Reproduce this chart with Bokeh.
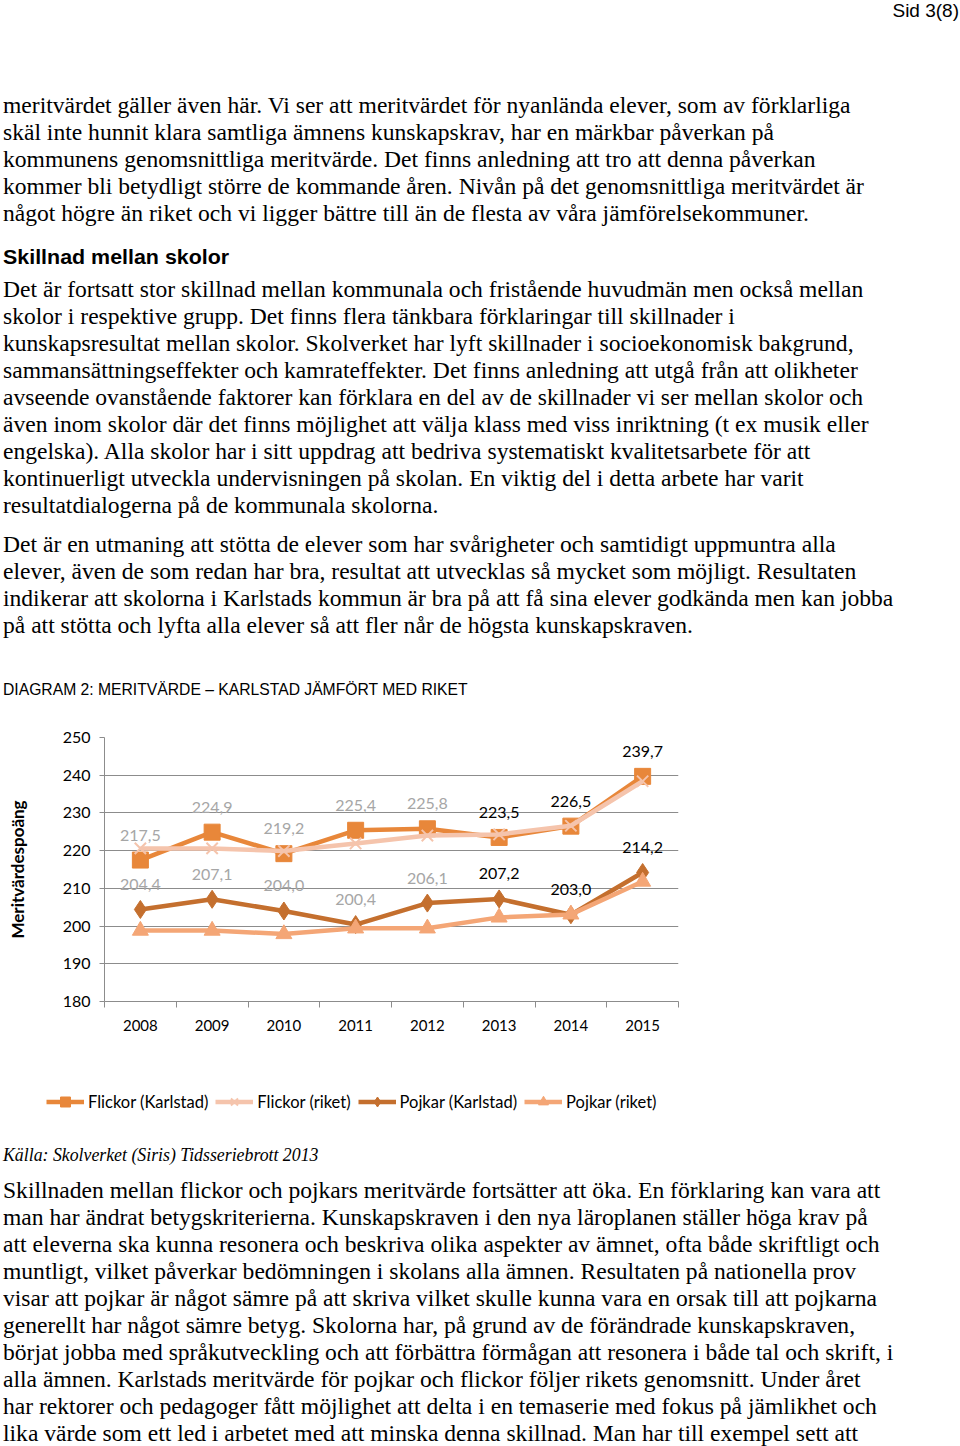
from bokeh.plotting import figure
from bokeh.models import (Range1d, FixedTicker, Legend, LegendItem, Div)
from bokeh.layouts import column
from bokeh.embed import file_html
from bokeh.resources import INLINE
from bokeh.core.properties import value

# ---------------- data ----------------
years = [2008, 2009, 2010, 2011, 2012, 2013, 2014, 2015]
flickor_karlstad = [217.5, 224.9, 219.2, 225.4, 225.8, 223.5, 226.5, 239.7]
flickor_riket = [220.6, 220.6, 219.9, 221.9, 224.0, 224.3, 226.6, 238.4]
pojkar_karlstad = [204.4, 207.1, 204.0, 200.4, 206.1, 207.2, 203.0, 214.2]
pojkar_riket = [198.8, 198.8, 197.9, 199.4, 199.4, 202.3, 203.1, 211.8]
y_ticks = [180, 190, 200, 210, 220, 230, 240, 250]
series_names = ["Flickor (Karlstad)", "Flickor (riket)", "Pojkar (Karlstad)", "Pojkar (riket)"]

# ---------------- page text ----------------
p1 = [
    "meritvärdet gäller även här. Vi ser att meritvärdet för nyanlända elever, som av förklarliga",
    "skäl inte hunnit klara samtliga ämnens kunskapskrav, har en märkbar påverkan på",
    "kommunens genomsnittliga meritvärde. Det finns anledning att tro att denna påverkan",
    "kommer bli betydligt större de kommande åren. Nivån på det genomsnittliga meritvärdet är",
    "något högre än riket och vi ligger bättre till än de flesta av våra jämförelsekommuner.",
]
heading = "Skillnad mellan skolor"
p2 = [
    "Det är fortsatt stor skillnad mellan kommunala och fristående huvudmän men också mellan",
    "skolor i respektive grupp. Det finns flera tänkbara förklaringar till skillnader i",
    "kunskapsresultat mellan skolor. Skolverket har lyft skillnader i socioekonomisk bakgrund,",
    "sammansättningseffekter och kamrateffekter. Det finns anledning att utgå från att olikheter",
    "avseende ovanstående faktorer kan förklara en del av de skillnader vi ser mellan skolor och",
    "även inom skolor där det finns möjlighet att välja klass med viss inriktning (t ex musik eller",
    "engelska). Alla skolor har i sitt uppdrag att bedriva systematiskt kvalitetsarbete för att",
    "kontinuerligt utveckla undervisningen på skolan. En viktig del i detta arbete har varit",
    "resultatdialogerna på de kommunala skolorna.",
]
p3 = [
    "Det är en utmaning att stötta de elever som har svårigheter och samtidigt uppmuntra alla",
    "elever, även de som redan har bra, resultat att utvecklas så mycket som möjligt. Resultaten",
    "indikerar att skolorna i Karlstads kommun är bra på att få sina elever godkända men kan jobba",
    "på att stötta och lyfta alla elever så att fler når de högsta kunskapskraven.",
]
diagram_title = "DIAGRAM 2: MERITVÄRDE – KARLSTAD JÄMFÖRT MED RIKET"
source = "Källa: Skolverket (Siris) Tidsseriebrott 2013"
p4 = [
    "Skillnaden mellan flickor och pojkars meritvärde fortsätter att öka. En förklaring kan vara att",
    "man har ändrat betygskriterierna. Kunskapskraven i den nya läroplanen ställer höga krav på",
    "att eleverna ska kunna resonera och beskriva olika aspekter av ämnet, ofta både skriftligt och",
    "muntligt, vilket påverkar bedömningen i skolans alla ämnen. Resultaten på nationella prov",
    "visar att pojkar är något sämre på att skriva vilket skulle kunna vara en orsak till att pojkarna",
    "generellt har något sämre betyg. Skolorna har, på grund av de förändrade kunskapskraven,",
    "börjat jobba med språkutveckling och att förbättra förmågan att resonera i både tal och skrift, i",
    "alla ämnen. Karlstads meritvärde för pojkar och flickor följer rikets genomsnitt. Under året",
    "har rektorer och pedagoger fått möjlighet att delta i en temaserie med fokus på jämlikhet och",
    "lika värde som ett led i arbetet med att minska denna skillnad. Man har till exempel sett att",
]

# ---------------- helpers for text blocks ----------------
SERIF = "'Liberation Serif', 'Times New Roman', serif"
SANS = "'Liberation Sans', Arial, sans-serif"


def line_html(txt, baseline, div_top, size, family, asc, weight="normal",
              style="normal", left=-2, sx=1.0, right=None):
    lh = round(size * 1.2)
    top = baseline - div_top - asc * size - (lh - 1.12 * size) / 2
    if right is None:
        pos = f"left:{left}px;"
        origin = "0 0"
    else:
        pos = f"right:{right}px;"
        origin = "100% 0"
    return (f'<div style="position:absolute;{pos}top:{top:.1f}px;'
            f'font-family:{family};font-size:{size}px;line-height:{lh}px;'
            f'font-weight:{weight};font-style:{style};white-space:nowrap;color:#000;'
            f'transform:scaleX({sx});transform-origin:{origin};">{txt}</div>')


BODY = 23
BODY_SX = 1.025

TOP_Y = 8
DT = 5  # vertical correction for top block
top_parts = []
top_parts.append(line_html("Sid 3(8)", 20, TOP_Y, 19, SANS, 0.905, right=-10))
for i, t in enumerate(p1):
    top_parts.append(line_html(t, 112 + DT + 27 * i, TOP_Y, BODY, SERIF, 0.891, sx=BODY_SX))
top_parts.append(line_html(heading, 262 + DT, TOP_Y, 21, SANS, 0.905, weight="bold", sx=1.02))
for i, t in enumerate(p2):
    top_parts.append(line_html(t, 296 + DT + 27 * i, TOP_Y, BODY, SERIF, 0.891, sx=BODY_SX))
for i, t in enumerate(p3):
    top_parts.append(line_html(t, 551 + DT + 27 * i, TOP_Y, BODY, SERIF, 0.891, sx=BODY_SX))
top_parts.append(line_html(diagram_title, 693 + DT, TOP_Y, 15.7, SANS, 0.905))

TOP_H = 697
top_div = Div(text=f'<div style="position:relative;width:944px;height:{TOP_H}px;">'
              + "".join(top_parts) + "</div>", width=944, height=TOP_H)

# ---------------- chart ----------------
FONT = "Lato"
GRID = "#8c8c8c"
c_fk = "#E8873A"
c_fr = "#F5C4AC"
c_pk = "#C46F2E"
c_pr = "#F4A676"

CH_W, CH_H = 708, 342
p = figure(width=CH_W, height=CH_H, x_range=Range1d(2007.5, 2015.5),
           y_range=Range1d(180, 250), output_backend="svg", toolbar_location=None,
           min_border_left=104, min_border_right=30, min_border_top=30,
           min_border_bottom=48)
p.outline_line_color = None
p.background_fill_color = "white"
p.border_fill_color = "white"

bounds = [years[0] - 0.5] + [y + 0.5 for y in years]
p.xaxis.ticker = FixedTicker(ticks=years, minor_ticks=bounds)
p.xaxis.major_tick_out = 0
p.xaxis.major_tick_in = 0
p.xaxis.minor_tick_out = 6
p.xaxis.minor_tick_in = 0
p.xaxis.minor_tick_line_color = GRID
p.xaxis.axis_line_color = GRID
p.xaxis.major_label_standoff = 12
p.xaxis.major_label_text_font = FONT
p.xaxis.major_label_text_font_size = "15px"
p.xaxis.major_label_text_color = "#000000"
p.xgrid.visible = False

p.yaxis.ticker = FixedTicker(ticks=y_ticks)
p.yaxis.major_tick_out = 5
p.yaxis.major_tick_in = 0
p.yaxis.minor_tick_out = 0
p.yaxis.minor_tick_in = 0
p.yaxis.major_tick_line_color = GRID
p.yaxis.axis_line_color = GRID
p.yaxis.major_label_standoff = 9
p.yaxis.major_label_text_font = FONT
p.yaxis.major_label_text_font_size = "16px"
p.yaxis.major_label_text_color = "#000000"
p.yaxis.axis_label = "Meritvärdespoäng"
p.yaxis.axis_label_text_font = FONT
p.yaxis.axis_label_text_font_size = "17px"
p.yaxis.axis_label_text_font_style = "bold"
p.yaxis.axis_label_text_color = "#000000"
p.yaxis.axis_label_standoff = 32
p.ygrid.grid_line_color = GRID
p.ygrid.grid_line_width = 1

LW = 4.5
MK = dict(square=16, x=16, diamond=18, triangle=16)
styles = [
    (flickor_karlstad, c_fk, "square"),
    (flickor_riket, c_fr, "x"),
    (pojkar_karlstad, c_pk, "diamond"),
    (pojkar_riket, c_pr, "triangle"),
]


def draw_series(fig, vals, col, mk):
    lr = fig.line(years, vals, line_color=col, line_width=LW)
    if mk == "x":
        sr = fig.scatter(years, vals, marker=mk, size=MK[mk], line_color=col, line_width=2)
    else:
        sr = fig.scatter(years, vals, marker=mk, size=MK[mk], fill_color=col, line_color=col)
    return lr, sr


for vals, col, mk in styles:
    draw_series(p, vals, col, mk)

label_colors = ["#000000" if y >= 2013 else "#a6a6a6" for y in years]
for vals in (flickor_karlstad, pojkar_karlstad):
    labels = [f"{v:.1f}".replace(".", ",") for v in vals]
    p.text(x=years, y=vals, text=labels, y_offset=-25, text_align="center",
           text_baseline="middle", text_font=value(FONT), text_font_size="16px",
           text_color=label_colors)

# ---------------- legend (own strip below the chart) ----------------
# The series are drawn again here outside the strip's visible ranges, only so
# that the legend has real renderers to draw its glyphs from.
LG_W, LG_H = 708, 75
lg = figure(width=LG_W, height=LG_H, x_range=Range1d(0, 1), y_range=Range1d(0, 1),
            output_backend="svg", toolbar_location=None,
            min_border_left=0, min_border_right=0, min_border_top=0, min_border_bottom=0)
if "frame_align" in lg.properties():
    lg.frame_align = False
    p.frame_align = False
lg.axis.visible = False
lg.grid.visible = False
lg.outline_line_color = None
items = []
for name, (vals, col, mk) in zip(series_names, styles):
    lr, sr = draw_series(lg, vals, col, mk)
    items.append(LegendItem(label=name, renderers=[lr, sr]))
legend = Legend(items=items, orientation="horizontal", location=(46, 10))
legend.padding = 0
legend.margin = 0
legend.spacing = 7
legend.glyph_width = 38
legend.glyph_height = 25
legend.label_standoff = 4
legend.label_text_font = FONT
legend.label_text_font_size = "16.5px"
legend.label_text_color = "#000000"
legend.border_line_color = None
legend.background_fill_alpha = 0
lg.add_layout(legend, "center")

# ---------------- bottom text ----------------
BOT_Y = TOP_Y + TOP_H + CH_H + LG_H + 3
DB = -2  # vertical correction for bottom block
bot_parts = [line_html(source, 1159 + DB, BOT_Y, 17.8, SERIF, 0.891, style="italic")]
for i, t in enumerate(p4):
    bot_parts.append(line_html(t, 1197 + DB + 27 * i, BOT_Y, BODY, SERIF, 0.891, sx=BODY_SX))
BOT_H = 1438 - BOT_Y
bot_div = Div(text=f'<div style="position:relative;width:944px;height:{BOT_H}px;">'
              + "".join(bot_parts) + "</div>", width=944, height=BOT_H)

page = column(top_div, p, lg, bot_div, spacing=0)
open("out.html", "w").write(file_html(page, INLINE))
